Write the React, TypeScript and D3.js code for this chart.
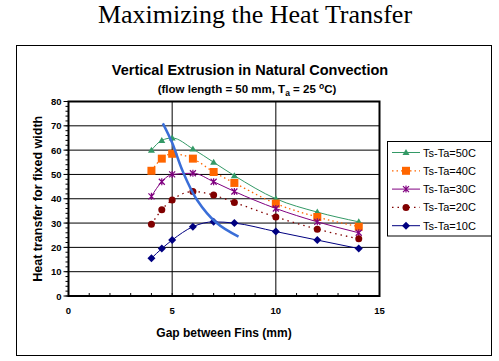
import React, { useEffect, useRef } from 'react';
import * as d3 from 'd3';

// gap between fins (mm), shared by all series
const gaps: number[] = [4, 4.5, 5, 6, 7, 8, 10, 12, 14];

const ts50: number[] = [60, 64, 65, 60.5, 55, 49.5, 40, 34.5, 30.5];
const ts40: number[] = [51.5, 56.5, 58.5, 56.5, 51, 46.5, 38, 32.5, 28.5];
const ts30: number[] = [41, 47, 50, 50.5, 47, 43, 36, 30.5, 26];
const ts20: number[] = [29.5, 35.5, 39.5, 43, 41.5, 38.5, 32.5, 27.5, 23.5];
const ts10: number[] = [15.5, 19.5, 23, 28.5, 30.5, 30, 26.5, 23, 19.5];

// optimum spacing curve
const optGap: number[] = [4.55, 5, 5.5, 6.2, 7.15, 8.2];
const optHeat: number[] = [71, 63, 51.5, 39.5, 30, 24.4];

const seriesNames: string[] = ['Ts-Ta=50C', 'Ts-Ta=40C', 'Ts-Ta=30C', 'Ts-Ta=20C', 'Ts-Ta=10C'];
const xTicks: number[] = [0, 5, 10, 15];
const yTicks: number[] = [0, 10, 20, 30, 40, 50, 60, 70, 80];

interface Series {
  name: string;
  values: number[];
  color: string;
  marker: string;
  dash: string | null;
}

const App: React.FC = () => {
  const ref = useRef<SVGSVGElement | null>(null);

  useEffect(() => {
    if (!ref.current) return;
    const svg = d3.select(ref.current);
    svg.selectAll('*').remove();

    const W = 499;
    const H = 361;
    const left = 68.5;
    const right = 379.5;
    const top = 101.5;
    const bottom = 296;

    const x = d3.scaleLinear().domain([0, 15]).range([left, right]);
    const y = d3.scaleLinear().domain([0, 80]).range([bottom, top]);

    const series: Series[] = [
      { name: seriesNames[0], values: ts50, color: '#339966', marker: 'tri', dash: null },
      { name: seriesNames[1], values: ts40, color: '#FF6600', marker: 'sq', dash: '1.5,3' },
      { name: seriesNames[2], values: ts30, color: '#800080', marker: 'star', dash: null },
      { name: seriesNames[3], values: ts20, color: '#800000', marker: 'circ', dash: '1.5,4' },
      { name: seriesNames[4], values: ts10, color: '#000080', marker: 'dia', dash: null },
    ];

    svg.attr('width', W).attr('height', H);
    svg.append('rect').attr('width', W).attr('height', H).attr('fill', '#fff');

    // page heading
    svg.append('text')
      .attr('x', 255).attr('y', 23)
      .attr('text-anchor', 'middle')
      .style('font-family', '"Liberation Serif", "Times New Roman", serif')
      .style('font-size', '26px')
      .text('Maximizing the Heat Transfer');

    // chart frame
    svg.append('rect')
      .attr('x', 16.5).attr('y', 45.5).attr('width', 475).attr('height', 310)
      .attr('fill', '#fff').attr('stroke', '#000').attr('stroke-width', 1);

    const sans = '"Liberation Sans", Arial, sans-serif';

    svg.append('text')
      .attr('x', 250).attr('y', 75)
      .attr('text-anchor', 'middle')
      .style('font-family', sans).style('font-size', '14.5px').style('font-weight', 'bold')
      .text('Vertical Extrusion in Natural Convection');

    const sub = svg.append('text')
      .attr('x', 247).attr('y', 93)
      .attr('text-anchor', 'middle')
      .style('font-family', sans).style('font-size', '11.5px').style('font-weight', 'bold');
    sub.append('tspan').text('(flow length = 50 mm, T');
    sub.append('tspan').attr('dy', 3).style('font-size', '8.5px').text('a');
    sub.append('tspan').attr('dy', -3).text(' = 25 ');
    sub.append('tspan').attr('dy', -4).style('font-size', '8.5px').text('o');
    sub.append('tspan').attr('dy', 4).text('C)');

    // grid
    const g = svg.append('g');
    g.selectAll('line.hg')
      .data(yTicks.slice(1, -1))
      .enter().append('line')
      .attr('x1', left).attr('x2', right)
      .attr('y1', (d) => y(d)).attr('y2', (d) => y(d))
      .attr('stroke', '#000').attr('stroke-width', 1);
    g.selectAll('line.vg')
      .data(xTicks.slice(1, -1))
      .enter().append('line')
      .attr('x1', (d) => x(d)).attr('x2', (d) => x(d))
      .attr('y1', top).attr('y2', bottom)
      .attr('stroke', '#000').attr('stroke-width', 1);

    // minor ticks
    g.selectAll('line.ym')
      .data(d3.range(0, 81, 2))
      .enter().append('line')
      .attr('x1', left - 3).attr('x2', left)
      .attr('y1', (d) => y(d)).attr('y2', (d) => y(d))
      .attr('stroke', '#000');
    g.selectAll('line.xm')
      .data(d3.range(0, 16, 1))
      .enter().append('line')
      .attr('x1', (d) => x(d)).attr('x2', (d) => x(d))
      .attr('y1', bottom - 3).attr('y2', bottom)
      .attr('stroke', '#000');
    g.selectAll('line.ymaj')
      .data(yTicks)
      .enter().append('line')
      .attr('x1', left - 5).attr('x2', left)
      .attr('y1', (d) => y(d)).attr('y2', (d) => y(d))
      .attr('stroke', '#000');

    // plot border
    svg.append('rect')
      .attr('x', left).attr('y', top).attr('width', right - left).attr('height', bottom - top)
      .attr('fill', 'none').attr('stroke', '#000').attr('stroke-width', 2);

    // tick labels
    svg.selectAll('text.yl')
      .data(yTicks)
      .enter().append('text')
      .attr('x', left - 7).attr('y', (d) => y(d) + 3.5)
      .attr('text-anchor', 'end')
      .style('font-family', sans).style('font-size', '9.5px').style('font-weight', 'bold')
      .text((d) => d);
    svg.selectAll('text.xl')
      .data(xTicks)
      .enter().append('text')
      .attr('x', (d) => x(d)).attr('y', 314)
      .attr('text-anchor', 'middle')
      .style('font-family', sans).style('font-size', '9.5px').style('font-weight', 'bold')
      .text((d) => d);

    svg.append('text')
      .attr('x', (left + right) / 2).attr('y', 336.5)
      .attr('text-anchor', 'middle')
      .style('font-family', sans).style('font-size', '12px').style('font-weight', 'bold')
      .text('Gap between Fins (mm)');
    svg.append('text')
      .attr('transform', `translate(41.5, ${(top + bottom) / 2}) rotate(-90)`)
      .attr('text-anchor', 'middle')
      .style('font-family', sans).style('font-size', '12.5px').style('font-weight', 'bold')
      .text('Heat transfer for fixed width');

    // markers
    const drawMarker = (sel: d3.Selection<SVGGElement, unknown, null, undefined>, kind: string, color: string) => {
      if (kind === 'tri') {
        sel.append('path').attr('d', 'M0,-3.5L3.5,2.5L-3.5,2.5Z').attr('fill', color);
      } else if (kind === 'sq') {
        sel.append('rect').attr('x', -4).attr('y', -4).attr('width', 8).attr('height', 8).attr('fill', color);
      } else if (kind === 'star') {
        sel.append('path').attr('d', 'M-3,-3L3,3M-3,3L3,-3M0,-3.5L0,3.5')
          .attr('stroke', color).attr('stroke-width', 1.2);
      } else if (kind === 'circ') {
        sel.append('circle').attr('r', 3.5).attr('fill', color);
      } else {
        sel.append('path').attr('d', 'M0,-4L4,0L0,4L-4,0Z').attr('fill', color);
      }
    };

    const line = d3.line<[number, number]>()
      .x((d) => x(d[0]))
      .y((d) => y(d[1]))
      .curve(d3.curveMonotoneX);

    series.forEach((s) => {
      const pts: [number, number][] = gaps.map((gx, i) => [gx, s.values[i]]);
      svg.append('path')
        .attr('d', line(pts))
        .attr('fill', 'none')
        .attr('stroke', s.color)
        .attr('stroke-width', s.dash ? 1.3 : 1)
        .attr('stroke-dasharray', s.dash);
      pts.forEach((p) => {
        const m = svg.append('g').attr('transform', `translate(${x(p[0])},${y(p[1])})`);
        drawMarker(m, s.marker, s.color);
      });
    });

    // optimum curve
    const optLine = d3.line<[number, number]>()
      .x((d) => x(d[0]))
      .y((d) => y(d[1]))
      .curve(d3.curveCatmullRom);
    svg.append('path')
      .attr('d', optLine(optGap.map((gx, i) => [gx, optHeat[i]] as [number, number])))
      .attr('fill', 'none')
      .attr('stroke', '#3A6ED8')
      .attr('stroke-width', 2.5);

    // legend
    const lg = svg.append('g');
    lg.append('rect')
      .attr('x', 387.5).attr('y', 141.5).attr('width', 104).attr('height', 94.5)
      .attr('fill', '#fff').attr('stroke', '#000').attr('stroke-width', 1);
    series.forEach((s, i) => {
      const ly = 152.5 + i * 18.3;
      lg.append('line')
        .attr('x1', 392).attr('x2', 420).attr('y1', ly).attr('y2', ly)
        .attr('stroke', s.color).attr('stroke-width', s.dash ? 1.3 : 1)
        .attr('stroke-dasharray', s.dash);
      const m = lg.append('g').attr('transform', `translate(406,${ly})`);
      drawMarker(m, s.marker, s.color);
      lg.append('text')
        .attr('x', 423).attr('y', ly + 4)
        .style('font-family', sans).style('font-size', '11px')
        .text(s.name);
    });
  }, []);

  return <svg ref={ref} style={{ position: 'absolute', left: 0, top: 0 }}></svg>;
};

export default App;
